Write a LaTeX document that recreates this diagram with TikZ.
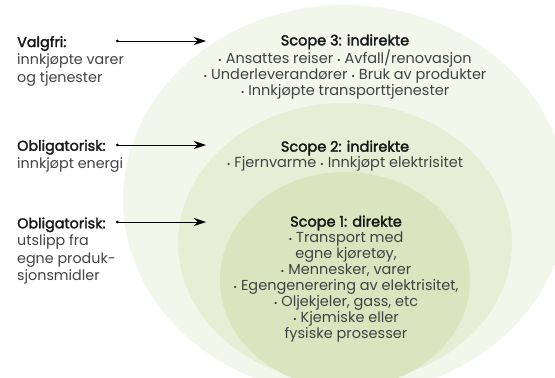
\documentclass[tikz,border=0pt]{standalone}
\usepackage{fontspec}
\setmainfont{Poppins}[BoldFont={Poppins}, BoldFeatures={FakeBold=2.2}]
\usepackage{tikz}
\usetikzlibrary{shapes, arrows.meta}
\definecolor{scopeA}{RGB}{243,246,234}
\definecolor{scopeB}{RGB}{230,239,214}
\definecolor{scopeC}{RGB}{216,229,190}
\definecolor{bodygrey}{RGB}{66,66,66}
\newcommand{\bul}{{\small\raisebox{0.1ex}{•}}}
\tikzstyle{scopetext} = [inner sep=0pt, align=center, text=bodygrey, font=\fontsize{14.5}{16}\selectfont]
\tikzstyle{sidetext} = [inner sep=0pt, align=left, anchor=west, text=bodygrey, font=\fontsize{14.3}{17.5}\selectfont]
\tikzstyle{edge} = [line width=0.8pt, {Circle[length=2.6pt]}-{Stealth[length=12pt, width=8pt]}]

\begin{document}
\begin{tikzpicture}[x=1pt, y=-1pt]
\useasboundingbox (0,0) rectangle (555,378);

% scopes
\begin{scope}
\clip (0,0) rectangle (555,378);
\fill [scopeA] (345,200) ellipse [x radius=222, y radius=195];
\fill [scopeB] (345,243) ellipse [x radius=167, y radius=140];
\fill [scopeC] (345,280) ellipse [x radius=125, y radius=108];
\end{scope}

\node (s3) [scopetext] at (345,67) {\textbf{\color{black!90}Scope 3: indirekte}\\
\bul{} Ansattes reiser \bul{} Avfall/renovasjon\\
\bul{} Underleverandører \bul{} Bruk av produkter\\
\bul{} Innkjøpte transporttjenester};
\node (s2) [scopetext] at (345,156) {\textbf{\color{black!90}Scope 2: indirekte}\\
\bul{} Fjernvarme \bul{} Innkjøpt elektrisitet};
\node (s1) [scopetext] at (346,279) {\textbf{\color{black!90}Scope 1: direkte}\\
\bul{} Transport med\\
egne kjøretøy,\\
\bul{} Mennesker, varer\\
\bul{} Egengenerering av elektrisitet,\\
\bul{} Oljekjeler, gass, etc\\
\bul{} Kjemiske eller\\
fysiske prosesser};

\node (l3) [sidetext] at (17,61) {\textbf{\color{black!90}Valgfri:}\\innkjøpte varer\\og tjenester};
\node (l2) [sidetext] at (17,156) {\textbf{\color{black!90}Obligatorisk:}\\innkjøpt energi};
\node (l1) [sidetext] at (17,251) {\textbf{\color{black!90}Obligatorisk:}\\utslipp fra\\egne produk-\\sjonsmidler};

\coordinate (a3) at (116,41);
\coordinate (b3) at (206,41);
\coordinate (a2) at (116,145);
\coordinate (b2) at (206,145);
\coordinate (a1) at (116,222);
\coordinate (b1) at (206,222);

\draw [edge] (a3) -- (b3);
\draw [edge] (a2) -- (b2);
\draw [edge] (a1) -- (b1);

\end{tikzpicture}
\end{document}
